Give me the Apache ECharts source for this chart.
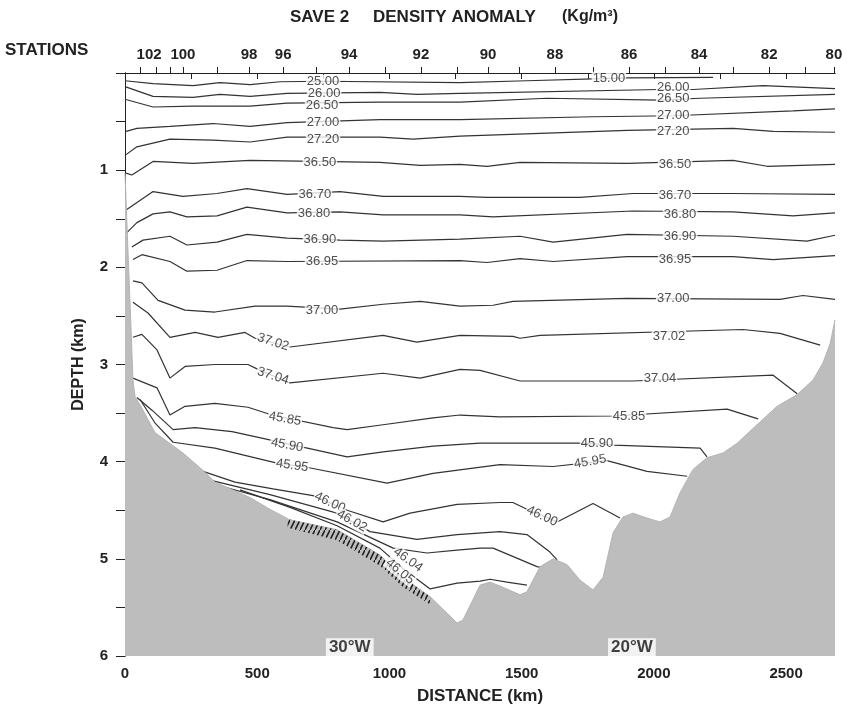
<!DOCTYPE html>
<html>
<head>
<meta charset="utf-8">
<script src="https://cdn.jsdelivr.net/npm/echarts@6/dist/echarts.min.js"></script>
<style>
  html, body { margin: 0; background: #fff; }
  #chart { width: 851px; height: 714px; }
</style>
</head>
<body>
<div id="chart"></div>
<script>
// [distance km, depth km]
const c25_00 = [[0,0.08],[106,0.11],[257,0.13],[359,0.10],[473,0.12],[586,0.09],[749,0.085],[1267,0.10],[1520,0.08],[1770,0.06],[1900,0.05],[2224,0.045]];
const c26_00 = [[0,0.14],[106,0.24],[257,0.25],[359,0.22],[473,0.24],[613,0.21],[964,0.20],[1104,0.22],[1267,0.21],[2023,0.17],[2148,0.17],[2413,0.13],[2685,0.16]];
const c26_50 = [[0,0.27],[106,0.35],[257,0.34],[473,0.34],[613,0.31],[964,0.30],[1267,0.30],[1596,0.26],[2023,0.28],[2175,0.26],[2685,0.22]];
const c27_00 = [[4,0.60],[45,0.57],[170,0.55],[333,0.52],[473,0.55],[613,0.51],[964,0.48],[1267,0.48],[1770,0.45],[2073,0.44],[2526,0.39],[2685,0.37]];
const c27_20 = [[4,0.84],[45,0.76],[170,0.68],[333,0.69],[473,0.71],[613,0.66],[964,0.66],[1089,0.68],[1267,0.65],[1899,0.59],[2300,0.57],[2451,0.60],[2685,0.61]];
const c36_50 = [[4,1.03],[26,1.05],[106,0.91],[257,0.93],[473,0.90],[964,0.92],[1116,0.95],[1267,0.94],[1369,0.96],[1494,0.92],[1899,0.93],[2300,0.90],[2428,0.96],[2685,0.94]];
const c36_70 = [[4,1.41],[106,1.22],[219,1.27],[348,1.24],[461,1.19],[613,1.25],[813,1.22],[976,1.27],[1267,1.27],[1369,1.28],[1721,1.28],[1921,1.24],[2300,1.24],[2685,1.25]];
const c36_80 = [[4,1.65],[45,1.54],[106,1.45],[170,1.43],[234,1.48],[348,1.47],[461,1.38],[613,1.44],[813,1.43],[976,1.46],[1267,1.46],[1392,1.48],[1921,1.42],[2300,1.43],[2526,1.47],[2685,1.44]];
const c36_90 = [[26,1.79],[68,1.72],[170,1.68],[234,1.77],[348,1.74],[461,1.66],[613,1.70],[813,1.72],[976,1.73],[1267,1.71],[1494,1.68],[1619,1.74],[1899,1.66],[2300,1.68],[2579,1.73],[2685,1.67]];
const c36_95 = [[30,1.92],[64,1.87],[170,1.94],[234,2.04],[348,2.03],[461,1.93],[613,1.94],[1267,1.93],[1369,1.95],[1494,1.91],[1619,1.94],[1899,1.89],[2300,1.89],[2451,1.92],[2685,1.88]];
const c37_00 = [[30,2.14],[64,2.16],[125,2.34],[227,2.44],[340,2.46],[492,2.40],[613,2.40],[813,2.43],[976,2.38],[1116,2.35],[1267,2.40],[1392,2.39],[1467,2.35],[1899,2.32],[2477,2.33],[2564,2.29],[2685,2.33]];
const c37_02 = [[30,2.36],[87,2.47],[170,2.72],[265,2.67],[352,2.72],[454,2.67],[492,2.73],[624,2.82],[976,2.70],[1104,2.77],[1267,2.70],[1467,2.71],[1494,2.73],[1570,2.70],[2337,2.64],[2477,2.68],[2629,2.80]];
const c37_04 = [[30,2.72],[64,2.69],[121,2.85],[170,3.14],[227,3.02],[340,3.00],[465,3.00],[503,3.05],[624,3.19],[976,3.09],[1116,3.14],[1267,3.05],[1343,3.06],[1494,3.17],[1921,3.17],[2451,3.11],[2542,3.30]];
const c45_85 = [[30,3.14],[121,3.24],[170,3.52],[227,3.43],[340,3.40],[465,3.44],[556,3.52],[787,3.65],[840,3.67],[976,3.62],[1165,3.55],[1267,3.52],[1418,3.54],[1846,3.53],[2277,3.46],[2394,3.56]];
const c45_90 = [[45,3.34],[102,3.47],[182,3.67],[265,3.65],[405,3.69],[556,3.78],[840,3.95],[976,3.90],[1165,3.84],[1343,3.81],[1721,3.81],[1846,3.83],[2175,3.86],[2201,3.95]];
const c45_95 = [[57,3.36],[113,3.60],[182,3.80],[340,3.86],[567,4.01],[692,4.06],[991,4.22],[1165,4.12],[1418,4.03],[1619,4.05],[1823,3.99],[1974,4.10],[2126,4.15]];
const c46_00 = [[295,4.10],[416,4.21],[560,4.28],[711,4.35],[840,4.50],[976,4.62],[1078,4.53],[1256,4.44],[1418,4.42],[1467,4.42],[1520,4.49],[1634,4.62],[1770,4.43],[1872,4.58]];
const c46_02 = [[321,4.19],[548,4.34],[802,4.53],[927,4.72],[1104,4.80],[1256,4.75],[1418,4.72],[1520,4.75],[1607,4.93],[1634,5.01]];
const c46_04 = [[348,4.24],[548,4.39],[802,4.62],[1014,4.89],[1142,4.94],[1256,4.91],[1343,4.89],[1392,4.89],[1558,5.08],[1577,5.09]];
const c46_05 = [[435,4.29],[624,4.47],[802,4.66],[964,4.89],[1051,5.10],[1154,5.31],[1256,5.25],[1343,5.23],[1380,5.21],[1445,5.24],[1520,5.27]];

// sea floor
const bathymetry = [[0,1.03],[11,1.82],[23,2.64],[30,3.16],[38,3.33],[68,3.47],[113,3.70],[219,3.91],[291,4.08],[340,4.21],[473,4.37],[548,4.49],[624,4.60],[802,4.70],[964,4.96],[1051,5.19],[1154,5.39],[1218,5.56],[1256,5.66],[1278,5.63],[1343,5.27],[1380,5.24],[1418,5.28],[1494,5.37],[1520,5.34],[1570,5.08],[1619,5.00],[1672,5.06],[1721,5.22],[1770,5.32],[1808,5.19],[1846,4.73],[1883,4.57],[1921,4.53],[1974,4.58],[2023,4.62],[2061,4.57],[2099,4.32],[2148,4.08],[2201,3.96],[2262,3.91],[2315,3.81],[2390,3.62],[2466,3.43],[2542,3.31],[2602,3.16],[2640,2.98],[2667,2.78],[2685,2.54]];
// hatched band on the slope
const hatchBand = [[615,4.59],[802,4.70],[964,4.96],[1051,5.19],[1154,5.39],[1154,5.47],[1051,5.29],[964,5.07],[802,4.81],[615,4.68]];

// [km, depth, text, rotation]
const contourLabels = [
  [749,0.085,'25.00',0],[1830,0.055,'15.00',0],
  [753,0.21,'26.00',0],[2073,0.145,'26.00',0],
  [745,0.33,'26.50',0],[2073,0.26,'26.50',0],
  [749,0.51,'27.00',0],[2073,0.44,'27.00',0],
  [749,0.68,'27.20',0],[2073,0.60,'27.20',0],
  [737,0.92,'36.50',0],[2080,0.94,'36.50',0],
  [718,1.25,'36.70',0],[2080,1.26,'36.70',0],
  [715,1.45,'36.80',0],[2099,1.46,'36.80',0],
  [737,1.71,'36.90',0],[2099,1.68,'36.90',0],
  [745,1.94,'36.95',0],[2080,1.92,'36.95',0],
  [745,2.44,'37.00',0],[2073,2.32,'37.00',0],
  [560,2.77,'37.02',-18],[2057,2.71,'37.02',0],
  [560,3.12,'37.04',-18],[2023,3.14,'37.04',0],
  [605,3.56,'45.85',-10],[1906,3.53,'45.85',0],
  [613,3.83,'45.90',-10],[1785,3.81,'45.90',0],
  [632,4.04,'45.95',-8],[1759,4.00,'45.95',10],
  [775,4.42,'46.00',-25],[1577,4.56,'46.00',-25],
  [858,4.61,'46.02',-29],
  [1070,5.01,'46.04',-36],
  [1040,5.13,'46.05',-40]
];
const longitudeLabels = [[850,5.91,'30°W'],[1917,5.91,'20°W']];

const stationKm = [57,117,170,219,348,469,598,722,847,983,1119,1256,1373,1490,1626,1770,1906,2042,2171,2300,2436,2571,2681];
const stationLabelKm = [91,219,469,598,847,1119,1373,1626,1906,2171,2436,2681];
const stationLabels = ['102','100','98','96','94','92','90','88','86','84','82','80'];
const distanceTicks = [0,250,500,750,1000,1250,1500,1750,2000,2250,2500];
const distanceLabels = [0,500,1000,1500,2000,2500];

const FONT = '"Liberation Sans", Arial, sans-serif';
const INK = '#222';
const LINE = '#333';

const hatch = document.createElement('canvas');
hatch.width = 5; hatch.height = 10;
const g = hatch.getContext('2d');
g.fillStyle = '#bdbdbd';
g.fillRect(0, 0, 5, 10);
g.strokeStyle = '#1e1e1e';
g.lineWidth = 1.6;
g.beginPath(); g.moveTo(-1, 12); g.lineTo(6, -2); g.stroke();

const chart = echarts.init(document.getElementById('chart'));

const contourSeries = [c25_00, c26_00, c26_50, c27_00, c27_20, c36_50, c36_70, c36_80, c36_90,
  c36_95, c37_00, c37_02, c37_04, c45_85, c45_90, c45_95, c46_00, c46_02, c46_04, c46_05]
  .map((d) => ({
    type: 'line', data: d, symbol: 'none', silent: true, z: 2,
    lineStyle: { color: LINE, width: 1.2 },
  }));

chart.setOption({
  animation: false,
  backgroundColor: '#fff',
  textStyle: { fontFamily: FONT },
  grid: { left: 125, right: 16, top: 73, bottom: 58 },
  graphic: [
    { type: 'text', left: 290, top: 9, style: { text: 'SAVE 2', font: 'bold 17px ' + FONT, fill: INK } },
    { type: 'text', left: 373, top: 9, style: { text: 'DENSITY ANOMALY', font: 'bold 17px ' + FONT, fill: INK } },
    { type: 'text', left: 562, top: 9, style: { text: '(Kg/m³)', font: 'bold 16px ' + FONT, fill: INK } },
    { type: 'text', left: 5, top: 42, style: { text: 'STATIONS', font: 'bold 17px ' + FONT, fill: INK } },
  ],
  xAxis: [
    {
      type: 'value', position: 'bottom', min: 0, max: 2685,
      axisLine: { lineStyle: { color: INK } },
      axisTick: { customValues: distanceTicks, length: 6, lineStyle: { color: INK } },
      axisLabel: {
        customValues: distanceLabels, margin: 10, fontSize: 15, fontWeight: 'bold', color: INK,
        formatter: (v) => String(v),
      },
      splitLine: { show: false },
      name: 'DISTANCE (km)', nameLocation: 'middle', nameGap: 32,
      nameTextStyle: { fontSize: 17, fontWeight: 'bold', color: INK },
    },
    {
      type: 'value', position: 'top', min: 0, max: 2685,
      axisLine: { lineStyle: { color: INK } },
      axisTick: { customValues: stationKm, length: 6, lineStyle: { color: INK } },
      axisLabel: {
        customValues: stationLabelKm, margin: 11, fontSize: 15, fontWeight: 'bold', color: INK,
        formatter: (v) => {
          const i = stationLabelKm.findIndex((k) => Math.abs(k - v) < 1);
          return i < 0 ? '' : stationLabels[i];
        },
      },
      splitLine: { show: false },
    },
  ],
  yAxis: [
    {
      type: 'value', inverse: true, min: 0, max: 6, interval: 0.5, position: 'left',
      axisLine: { show: true, lineStyle: { color: INK } },
      axisTick: { show: true, length: 9, lineStyle: { color: INK } },
      axisLabel: {
        margin: 17, fontSize: 15, fontWeight: 'bold', color: INK,
        formatter: (v) => (v > 0 && Number.isInteger(v) ? String(v) : ''),
      },
      splitLine: { show: false },
      name: 'DEPTH (km)', nameLocation: 'middle', nameGap: 38, nameRotate: 90,
      nameTextStyle: { fontSize: 16, fontWeight: 'bold', color: INK },
    },
    {
      type: 'value', inverse: true, min: 0, max: 6, position: 'right',
      axisLine: { show: true, lineStyle: { color: INK } },
      axisTick: { show: false }, axisLabel: { show: false }, splitLine: { show: false },
    },
  ],
  series: [
    ...contourSeries,
    {
      type: 'line', data: bathymetry, symbol: 'none', silent: true, z: 3,
      lineStyle: { color: '#b4b4b4', width: 1 },
      areaStyle: { color: '#bdbdbd', opacity: 1, origin: 'end' },
    },
    {
      type: 'custom', silent: true, z: 4,
      data: [hatchBand[0]],
      renderItem: (params, api) => ({
        type: 'polygon',
        shape: { points: hatchBand.map((p) => api.coord(p)) },
        style: { fill: { image: hatch, repeat: 'repeat' }, stroke: null },
      }),
    },
    {
      type: 'scatter', silent: true, z: 5, symbolSize: 0,
      data: contourLabels.map(([x, y, t, r]) => ({ value: [x, y], name: t, label: { rotate: r } })),
      label: {
        show: true, position: 'inside', formatter: '{b}',
        fontSize: 13, color: '#222', backgroundColor: '#fff', padding: [0, 1],
      },
    },
    {
      type: 'scatter', silent: true, z: 5, symbolSize: 0,
      data: longitudeLabels.map(([x, y, t]) => ({ value: [x, y], name: t })),
      label: {
        show: true, position: 'inside', formatter: '{b}',
        fontSize: 17, fontWeight: 'bold', color: '#111', textBorderWidth: 0,
        backgroundColor: '#fff', padding: [1, 3, 0, 3],
      },
    },
  ],
});
</script>
</body>
</html>
